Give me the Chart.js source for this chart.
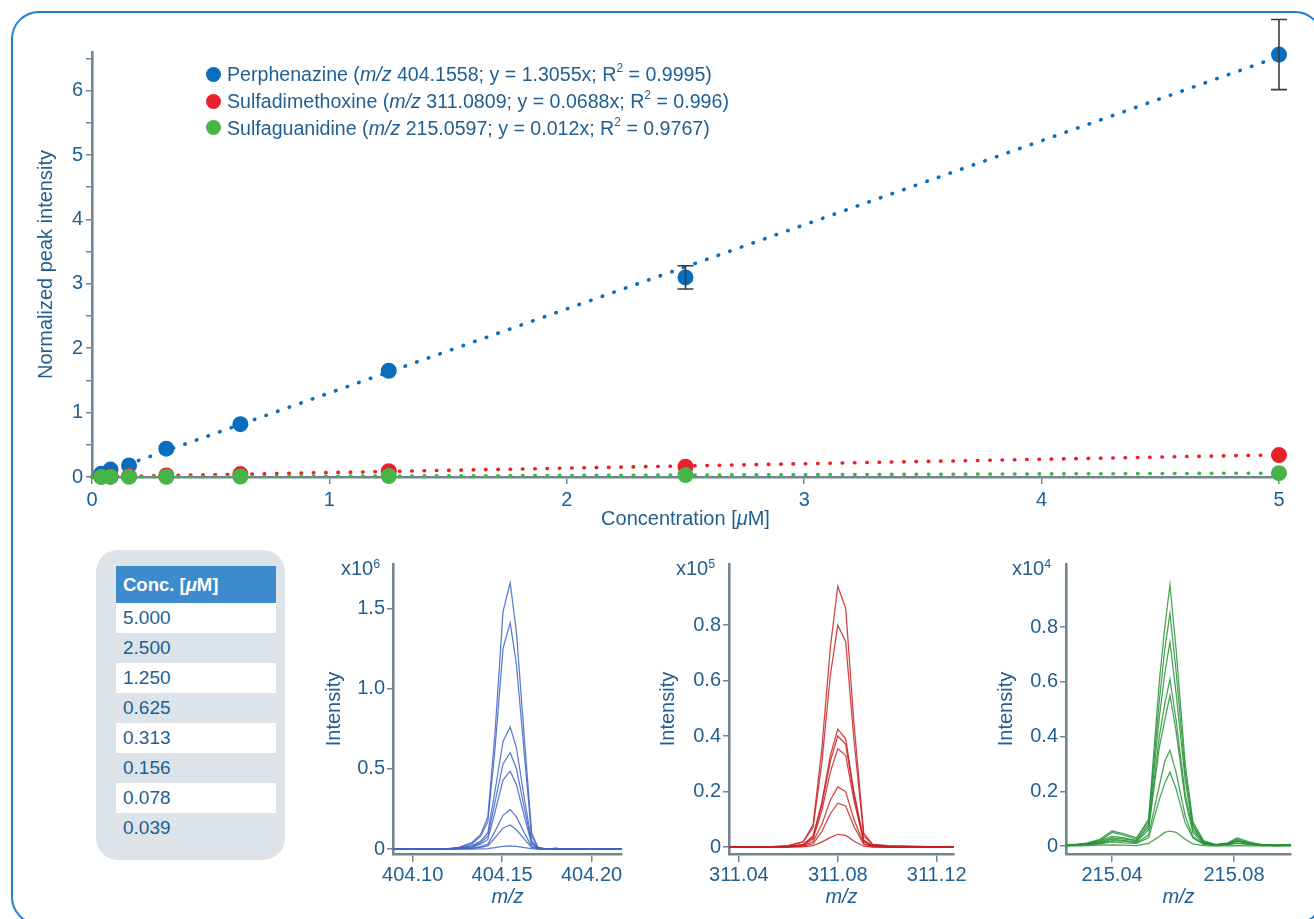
<!DOCTYPE html>
<html>
<head>
<meta charset="utf-8">
<script src="https://cdn.jsdelivr.net/npm/chart.js@4.4.1/dist/chart.umd.min.js"></script>
<style>
  html, body { margin: 0; padding: 0; background: #fff; }
  body { width: 1314px; height: 919px; position: relative; overflow: hidden;
         font-family: 'Liberation Sans', Arial, sans-serif; color: #1f5f91; }
  .frame { position: absolute; left: 11px; top: 11px; width: 1312px; height: 914px;
           border: 2px solid #1f7fd0; border-radius: 28px; box-sizing: border-box; }
  canvas { position: absolute; }
  #legend { position: absolute; left: 206px; top: 61px; font-size: 19.6px; line-height: 26.8px; }
  #legend .row { display: flex; align-items: center; white-space: nowrap; }
  #legend .dot { width: 15px; height: 15px; border-radius: 50%; margin-right: 6px; flex: none; }
  sup.s { font-size: 12px; position: relative; top: -1px; vertical-align: super; line-height: 0; }
  #xtitle { position: absolute; left: 0; width: 1371px; top: 507px; text-align: center; font-size: 20px; }
  .box { position: absolute; left: 96px; top: 550px; width: 189px; height: 310px;
         background: #dce3e9; border-radius: 22px; }
  .tbl { position: absolute; left: 20px; top: 16px; width: 160px; }
  .tbl .hd { height: 37px; line-height: 37px; background: #3d8bcd; color: #fff; font-weight: bold;
             font-size: 18.5px; padding-left: 7px; }
  .tbl .r { height: 30px; line-height: 30px; font-size: 19px; padding-left: 7px; color: #1f5f91; }
  .tbl .r.w { background: #fff; }
  .mult { position: absolute; top: 558px; font-size: 20px; line-height: 20px; white-space: nowrap; }
  .mult span { font-size: 12.5px; position: relative; top: -7px; }
</style>
</head>
<body>
<div class="frame"></div>
<canvas id="main" width="1284" height="534" style="left:30px;top:0px"></canvas>
<div id="legend"></div>
<div id="xtitle">Concentration [<i>μ</i>M]</div>
<div class="box"><div class="tbl" id="tbl"></div></div>
<canvas id="sp0" width="312" height="363" style="left:318px;top:550px"></canvas>
<canvas id="sp1" width="324" height="363" style="left:652px;top:550px"></canvas>
<canvas id="sp2" width="324" height="363" style="left:990px;top:550px"></canvas>
<script>
// ---- calibration data ----
const CONC = [0.039, 0.078, 0.156, 0.313, 0.625, 1.25, 2.5, 5];
const PERPHENAZINE = [0.05, 0.115, 0.18, 0.44, 0.82, 1.65, 3.10, 6.56];
const PERPHENAZINE_ERR = [0, 0, 0, 0, 0, 0, 0.18, 0.545];
const SULFADIMETHOXINE = [0.003, 0.006, 0.015, 0.025, 0.045, 0.09, 0.16, 0.34];
const SULFAGUANIDINE = [0.0005, 0.001, 0.002, 0.004, 0.008, 0.015, 0.03, 0.06];
const COMPOUNDS = ['Perphenazine', 'Sulfadimethoxine', 'Sulfaguanidine'];
const MZ = ['404.1558', '311.0809', '215.0597'];
const SLOPES = [1.3055, 0.0688, 0.012];
const R2 = ['0.9995', '0.996', '0.9767'];
const FIT_RANGE = [0, 5];
const X_TICKS = [0, 1, 2, 3, 4, 5];
const Y_TICKS = [0, 0.5, 1, 1.5, 2, 2.5, 3, 3.5, 4, 4.5, 5, 5.5, 6, 6.5];

// ---- extracted ion spectra (one trace per concentration) ----
const MZ_PERPH = [404.089, 404.118, 404.126, 404.133, 404.138, 404.142, 404.146, 404.1505, 404.1545, 404.158, 404.1625, 404.1665, 404.170, 404.175, 404.180, 404.184, 404.217];
const SPEC_PERPH = [ // x10^6
  [0, 0, 0.01, 0.04, 0.09, 0.20, 0.72, 1.48, 1.66, 1.35, 0.68, 0.10, 0.01, 0, 0.005, 0, 0],
  [0, 0, 0.01, 0.03, 0.08, 0.17, 0.62, 1.25, 1.41, 1.15, 0.58, 0.08, 0.01, 0, 0.004, 0, 0],
  [0, 0, 0.005, 0.02, 0.05, 0.10, 0.36, 0.67, 0.76, 0.63, 0.31, 0.05, 0.005, 0, 0, 0, 0],
  [0, 0, 0.005, 0.015, 0.04, 0.08, 0.29, 0.53, 0.60, 0.50, 0.25, 0.04, 0.005, 0, 0, 0, 0],
  [0, 0, 0.004, 0.012, 0.03, 0.06, 0.23, 0.43, 0.485, 0.40, 0.20, 0.03, 0.004, 0, 0, 0, 0],
  [0, 0, 0.002, 0.006, 0.015, 0.03, 0.11, 0.21, 0.245, 0.20, 0.10, 0.015, 0.002, 0, 0, 0, 0],
  [0, 0, 0.001, 0.004, 0.01, 0.02, 0.07, 0.13, 0.15, 0.12, 0.06, 0.01, 0.001, 0, 0, 0, 0],
  [0, 0, 0, 0, 0.001, 0.002, 0.008, 0.016, 0.02, 0.017, 0.009, 0.002, 0, 0, 0, 0, 0]
];
const MZ_SULFADI = [311.036, 311.050, 311.060, 311.066, 311.070, 311.0735, 311.077, 311.080, 311.0832, 311.0865, 311.0905, 311.094, 311.100, 311.110, 311.1269];
const SPEC_SULFADI = [ // x10^5
  [0, 0, 0.005, 0.02, 0.08, 0.35, 0.72, 0.94, 0.86, 0.45, 0.05, 0.01, 0.005, 0.003, 0],
  [0, 0, 0.004, 0.018, 0.07, 0.30, 0.62, 0.80, 0.74, 0.39, 0.04, 0.01, 0.004, 0.002, 0],
  [0, 0, 0.002, 0.01, 0.04, 0.16, 0.33, 0.425, 0.39, 0.20, 0.025, 0.005, 0.002, 0, 0],
  [0, 0, 0.002, 0.009, 0.035, 0.15, 0.31, 0.40, 0.37, 0.19, 0.02, 0.005, 0.002, 0, 0],
  [0, 0, 0.002, 0.008, 0.03, 0.13, 0.27, 0.355, 0.33, 0.17, 0.02, 0.004, 0.001, 0, 0],
  [0, 0, 0.001, 0.005, 0.02, 0.08, 0.17, 0.217, 0.20, 0.10, 0.012, 0.003, 0.001, 0, 0],
  [0, 0, 0.001, 0.003, 0.012, 0.055, 0.12, 0.158, 0.148, 0.075, 0.01, 0.002, 0, 0, 0],
  [0, 0, 0, 0.001, 0.005, 0.018, 0.035, 0.046, 0.042, 0.022, 0.003, 0, 0, 0, 0]
];
const MZ_SULFAGU = [215.0249, 215.028, 215.032, 215.036, 215.040, 215.044, 215.048, 215.052, 215.0555, 215.0573, 215.059, 215.061, 215.064, 215.0665, 215.070, 215.074, 215.078, 215.081, 215.085, 215.089, 215.094, 215.0987];
const SPEC_SULFAGU = [ // x10^4
  [0.003, 0.005, 0.01, 0.02, 0.05, 0.04, 0.025, 0.10, 0.60, 0.80, 0.955, 0.72, 0.30, 0.09, 0.02, 0.005, 0.01, 0.02, 0.01, 0.005, 0.003, 0.004],
  [0.002, 0.004, 0.012, 0.025, 0.055, 0.045, 0.03, 0.09, 0.53, 0.72, 0.85, 0.64, 0.27, 0.08, 0.015, 0.004, 0.012, 0.03, 0.015, 0.004, 0.002, 0.003],
  [0.004, 0.006, 0.008, 0.015, 0.03, 0.025, 0.02, 0.08, 0.47, 0.63, 0.746, 0.56, 0.24, 0.07, 0.015, 0.005, 0.008, 0.02, 0.01, 0.006, 0.004, 0.005],
  [0.002, 0.003, 0.01, 0.02, 0.035, 0.03, 0.02, 0.07, 0.40, 0.52, 0.61, 0.46, 0.19, 0.06, 0.012, 0.003, 0.01, 0.025, 0.012, 0.004, 0.002, 0.003],
  [0.003, 0.004, 0.007, 0.012, 0.025, 0.02, 0.015, 0.06, 0.36, 0.46, 0.55, 0.42, 0.17, 0.05, 0.01, 0.004, 0.007, 0.018, 0.01, 0.005, 0.003, 0.004],
  [0.002, 0.003, 0.006, 0.01, 0.02, 0.018, 0.012, 0.04, 0.22, 0.31, 0.35, 0.27, 0.11, 0.035, 0.008, 0.003, 0.006, 0.012, 0.007, 0.003, 0.002, 0.003],
  [0.002, 0.003, 0.005, 0.008, 0.015, 0.012, 0.01, 0.03, 0.17, 0.23, 0.27, 0.21, 0.085, 0.03, 0.006, 0.002, 0.005, 0.01, 0.005, 0.002, 0.002, 0.002],
  [0.001, 0.001, 0.002, 0.003, 0.004, 0.003, 0.002, 0.01, 0.035, 0.05, 0.055, 0.05, 0.025, 0.008, 0.002, 0.001, 0.001, 0.002, 0.001, 0.001, 0.001, 0.001]
];
const SPEC_EXP = [6, 5, 4];
const SPEC_X_TICKS = [[404.10, 404.15, 404.20], [311.04, 311.08, 311.12], [215.04, 215.08]];
const SPEC_Y_TICKS = [[0, 0.5, 1.0, 1.5], [0, 0.2, 0.4, 0.6, 0.8], [0, 0.2, 0.4, 0.6, 0.8]];

// ---- styling ----
const TEXT = '#1f5f91';
const AXIS = '#738591';
const POINT_COLORS = ['#0a6ebd', '#e8212a', '#45b549'];
const TRACE_COLORS = ['rgba(62,100,196,0.85)', 'rgba(200,32,34,0.85)', 'rgba(38,146,54,0.85)'];
const FONT = "'Liberation Sans', Arial, sans-serif";

Chart.defaults.font.family = FONT;
Chart.defaults.font.size = 20;
Chart.defaults.color = TEXT;

// legend
const legend = document.getElementById('legend');
COMPOUNDS.forEach((name, i) => {
  const row = document.createElement('div');
  row.className = 'row';
  row.innerHTML = `<span class="dot" style="background:${POINT_COLORS[i]}"></span>` +
    `<span>${name} (<i>m/z</i> ${MZ[i]}; y = ${SLOPES[i]}x; R<sup class="s">2</sup> = ${R2[i]})</span>`;
  legend.appendChild(row);
});

// concentration table
const tbl = document.getElementById('tbl');
tbl.innerHTML = '<div class="hd">Conc. [<i>μ</i>M]</div>' +
  CONC.slice().reverse().map((c, i) => `<div class="r${i % 2 === 0 ? ' w' : ''}">${c.toFixed(3)}</div>`).join('');

// error bars for the perphenazine replicates
const errorBars = {
  id: 'errorBars',
  afterDatasetsDraw(chart) {
    const { ctx, scales: { x, y } } = chart;
    ctx.save();
    ctx.strokeStyle = '#3b3b3b';
    ctx.lineWidth = 1.6;
    CONC.forEach((c, i) => {
      const e = PERPHENAZINE_ERR[i];
      if (!e) return;
      const px = x.getPixelForValue(c);
      const top = y.getPixelForValue(PERPHENAZINE[i] + e);
      const bot = y.getPixelForValue(PERPHENAZINE[i] - e);
      ctx.beginPath();
      ctx.moveTo(px, top); ctx.lineTo(px, bot);
      ctx.moveTo(px - 8, top); ctx.lineTo(px + 8, top);
      ctx.moveTo(px - 8, bot); ctx.lineTo(px + 8, bot);
      ctx.stroke();
    });
    ctx.restore();
  }
};

const series = [PERPHENAZINE, SULFADIMETHOXINE, SULFAGUANIDINE];
const pointSets = series.map((vals, i) => ({
  type: 'scatter',
  data: CONC.map((c, k) => ({ x: c, y: vals[k] })),
  backgroundColor: POINT_COLORS[i],
  borderWidth: 0,
  pointRadius: 8,
  clip: false,
  order: 2 - i
}));
const fitSets = SLOPES.map((m, i) => ({
  type: 'line',
  data: FIT_RANGE.map(x => ({ x, y: m * x })),
  borderColor: POINT_COLORS[i],
  borderWidth: 3.6,
  borderDash: [0.5, 11.8],
  borderCapStyle: 'round',
  pointRadius: 0,
  clip: false,
  order: 5 - i
}));

new Chart(document.getElementById('main'), {
  type: 'scatter',
  data: { datasets: [...pointSets, ...fitSets] },
  options: {
    responsive: false, animation: false, events: [],
    layout: { padding: { top: 52, right: 35, left: 0, bottom: 0 } },
    plugins: { legend: { display: false }, tooltip: { enabled: false } },
    scales: {
      x: {
        type: 'linear', min: 0, max: 5,
        afterFit: s => { s.height = 57; },
        afterBuildTicks: s => { s.ticks = X_TICKS.map(v => ({ value: v })); },
        grid: { drawOnChartArea: false, color: AXIS, lineWidth: 1.5, tickLength: 7 },
        border: { color: AXIS, width: 2.6 },
        ticks: { padding: 4, color: TEXT, callback: v => String(v) }
      },
      y: {
        type: 'linear', min: 0, max: 6.6,
        afterFit: s => { s.width = 62; },
        afterBuildTicks: s => { s.ticks = Y_TICKS.map(v => ({ value: v })); },
        grid: { drawOnChartArea: false, color: AXIS, lineWidth: 1.5, tickLength: 6 },
        border: { color: AXIS, width: 2.6 },
        ticks: { padding: 3, color: TEXT, callback: v => Number.isInteger(v) ? String(v) : '' },
        title: { display: true, text: 'Normalized peak intensity', color: TEXT, font: { size: 20 } }
      }
    }
  },
  plugins: [errorBars]
});

// spectra panels
const SPECTRA = [
  { mz: MZ_PERPH, traces: SPEC_PERPH, x: [404.089, 404.217], y: [-0.031, 1.776], yWidth: 75, padRight: 8, left: 341 },
  { mz: MZ_SULFADI, traces: SPEC_SULFADI, x: [311.036, 311.127], y: [-0.025, 1.02], yWidth: 77, padRight: 22, left: 676 },
  { mz: MZ_SULFAGU, traces: SPEC_SULFAGU, x: [215.0249, 215.0987], y: [-0.029, 1.031], yWidth: 76, padRight: 23, left: 1012 }
];

SPECTRA.forEach((p, i) => {
  const mult = document.createElement('div');
  mult.className = 'mult';
  mult.style.left = p.left + 'px';
  mult.innerHTML = `x10<span>${SPEC_EXP[i]}</span>`;
  document.body.appendChild(mult);

  new Chart(document.getElementById('sp' + i), {
    type: 'line',
    data: {
      datasets: p.traces.map(tr => ({
        data: p.mz.map((m, k) => ({ x: m, y: tr[k] })),
        borderColor: TRACE_COLORS[i],
        borderWidth: 1.25,
        pointRadius: 0,
        tension: 0
      }))
    },
    options: {
      responsive: false, animation: false, events: [],
      layout: { padding: { top: 10, right: p.padRight, left: 0, bottom: 0 } },
      plugins: { legend: { display: false }, tooltip: { enabled: false } },
      scales: {
        x: {
          type: 'linear', min: p.x[0], max: p.x[1],
          afterFit: s => { s.height = 59; },
          afterBuildTicks: s => { s.ticks = SPEC_X_TICKS[i].map(v => ({ value: v })); },
          grid: { drawOnChartArea: false, color: AXIS, lineWidth: 1.5, tickLength: 8 },
          border: { color: AXIS, width: 2.6 },
          ticks: { padding: 1, color: TEXT, callback: v => v.toFixed(2) },
          title: { display: true, text: 'm/z', color: TEXT, font: { size: 20, style: 'italic' } }
        },
        y: {
          type: 'linear', min: p.y[0], max: p.y[1],
          afterFit: s => { s.width = p.yWidth; },
          afterBuildTicks: s => { s.ticks = SPEC_Y_TICKS[i].map(v => ({ value: v })); },
          grid: { drawOnChartArea: false, color: AXIS, lineWidth: 1.5, tickLength: 6 },
          border: { color: AXIS, width: 2.6 },
          ticks: { padding: 2, color: TEXT, callback: v => v === 0 ? '0' : v.toFixed(1) },
          title: { display: true, text: 'Intensity', color: TEXT, font: { size: 20 } }
        }
      }
    }
  });
});
</script>
</body>
</html>
